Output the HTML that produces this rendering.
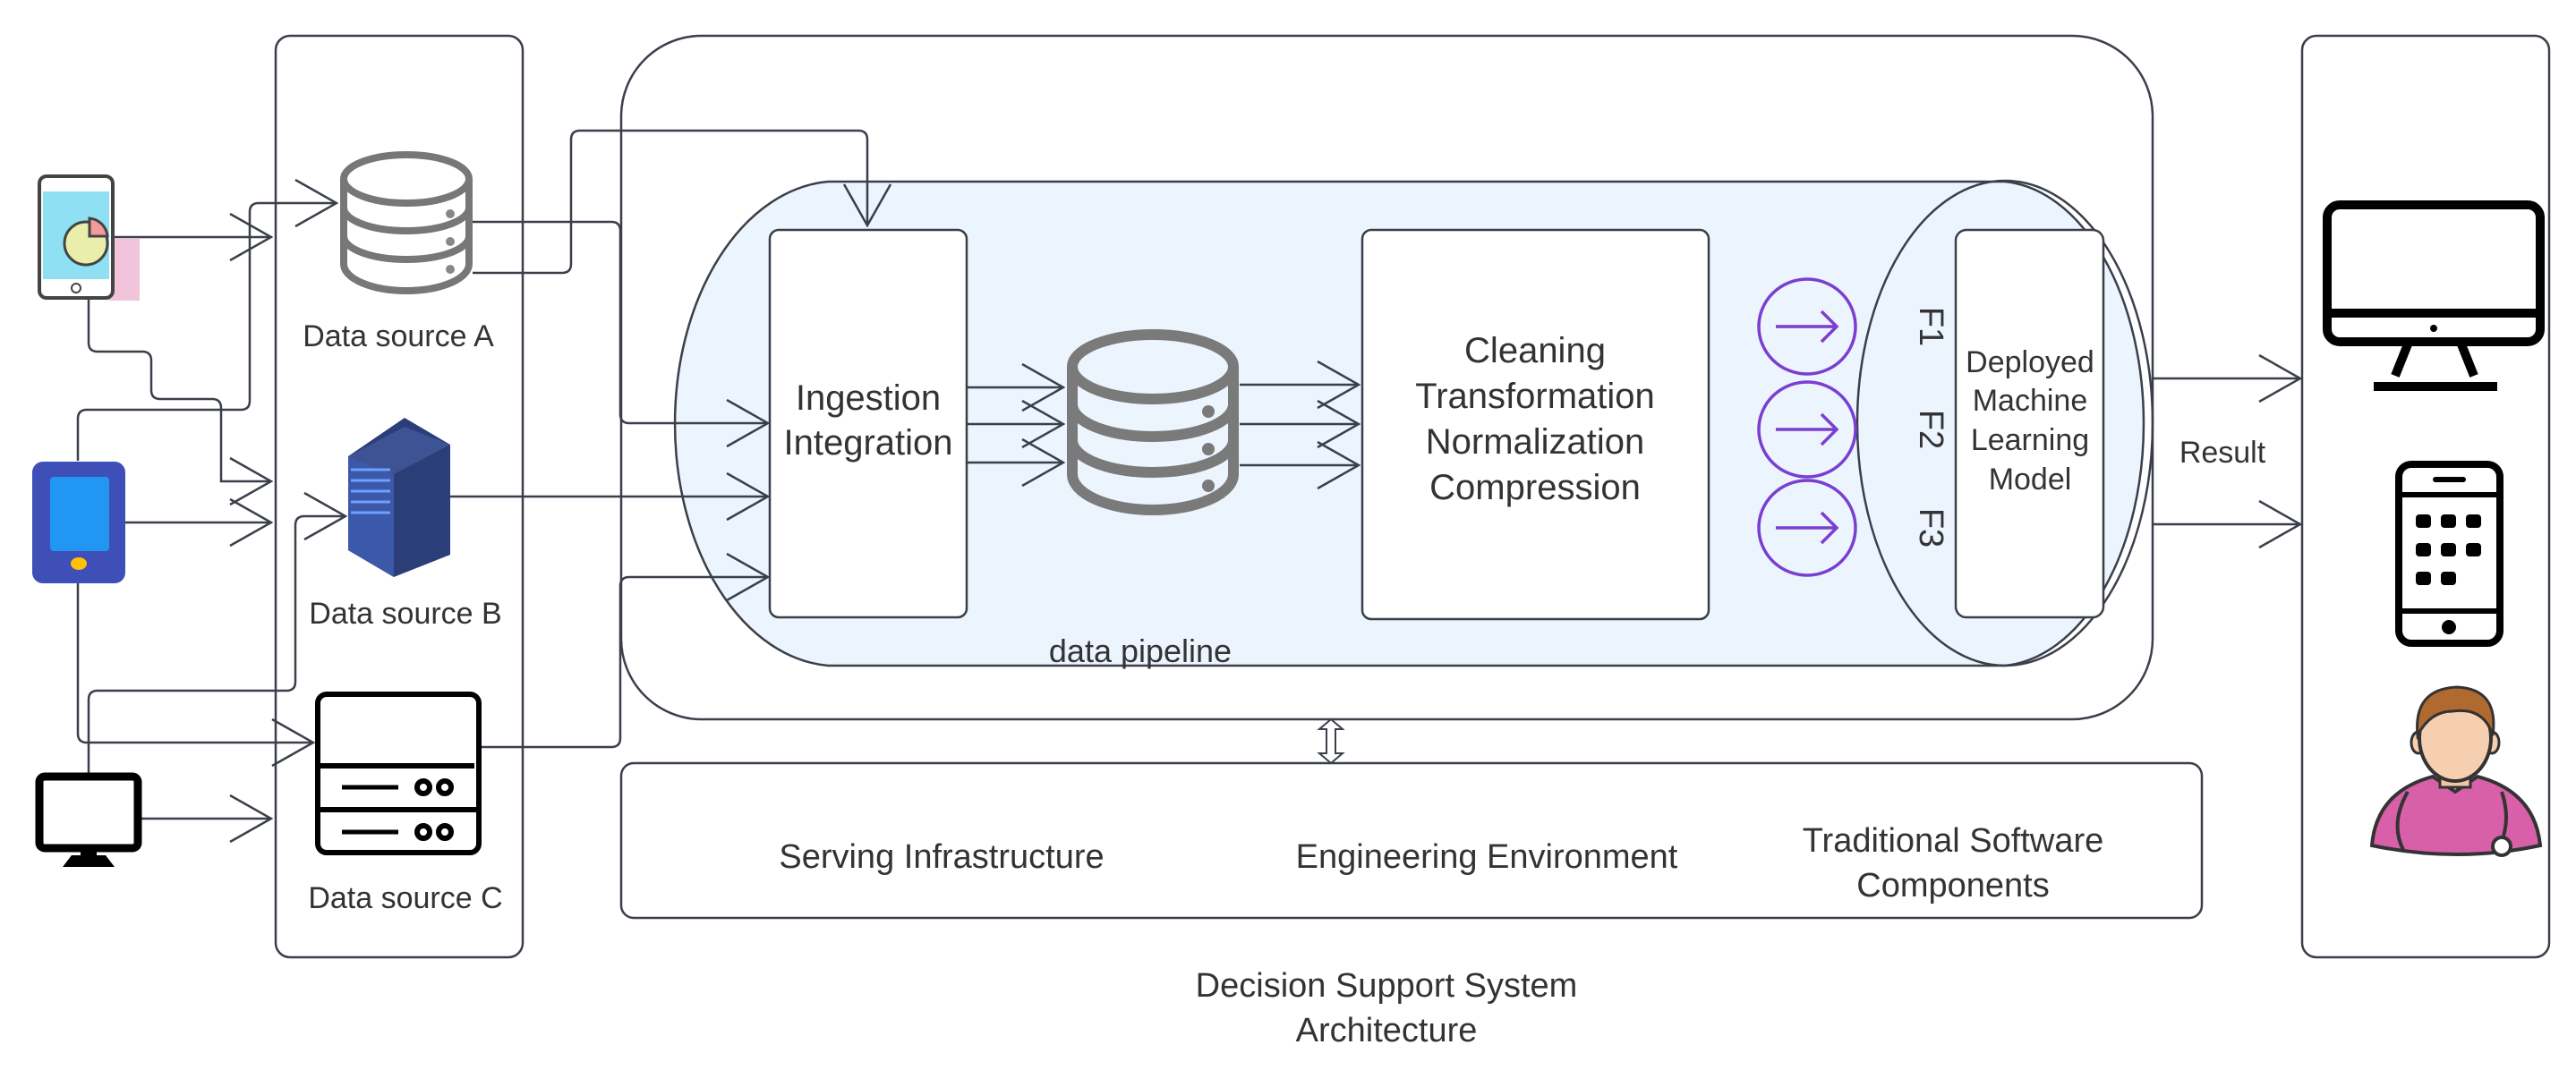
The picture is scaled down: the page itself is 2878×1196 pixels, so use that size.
<!DOCTYPE html>
<html><head><meta charset="utf-8"><style>
html,body{margin:0;padding:0;background:#fff;}
svg{display:block;}
text{font-family:"Liberation Sans",sans-serif;fill:#333;}
</style></head><body>
<svg width="2878" height="1196" viewBox="0 0 2878 1196" xmlns="http://www.w3.org/2000/svg">
<defs>
<marker id="ah" markerWidth="50" markerHeight="60" refX="48" refY="28" orient="auto" markerUnits="userSpaceOnUse">
<path d="M2,2 L48,28 L2,54" fill="none" stroke="#3a3f4a" stroke-width="2.5"/>
</marker>
</defs>
<g fill="none" stroke="#3a3f4a" stroke-width="2.5">
<rect x="308" y="40" width="276" height="1030" rx="16"/>
<rect x="694" y="40" width="1711" height="764" rx="90"/>
<rect x="694" y="853" width="1766" height="173" rx="14"/>
<rect x="2572" y="40" width="276" height="1030" rx="16"/>
<path d="M925,203 H2240 A165,271 0 0 1 2240,744 H925 A182,271 0 0 1 925,203 Z" fill="#ecf4fe"/>
<ellipse cx="2240" cy="473" rx="165" ry="271"/>
<rect x="860" y="257" width="220" height="433" rx="10" fill="#fff"/>
<rect x="1522" y="257" width="387" height="435" rx="10" fill="#fff"/>
<rect x="2185" y="257" width="165" height="433" rx="12" fill="#fff"/>
<path d="M126,265 H303" marker-end="url(#ah)"/>
<path d="M87,515 V468 Q87,458 97,458 H269 Q279,458 279,448 V237 Q279,227 289,227 H376" marker-end="url(#ah)"/>
<path d="M99,333 V383 Q99,393 109,393 H159 Q169,393 169,403 V436 Q169,446 179,446 H237 Q247,446 247,456 V538 H303" marker-end="url(#ah)"/>
<path d="M140,584 H303" marker-end="url(#ah)"/>
<path d="M87,652 V820 Q87,830 97,830 H350" marker-end="url(#ah)"/>
<path d="M99,866 V782 Q99,772 109,772 H320 Q330,772 330,762 V587 Q330,577 340,577 H386" marker-end="url(#ah)"/>
<path d="M158,915 H303" marker-end="url(#ah)"/>
<path d="M528,248 H683 Q693,248 693,258 V463 Q693,473 703,473 H858" marker-end="url(#ah)"/>
<path d="M528,305 H628 Q638,305 638,295 V156 Q638,146 648,146 H959 Q969,146 969,156 V252" marker-end="url(#ah)"/>
<path d="M503,555 H858" marker-end="url(#ah)"/>
<path d="M537,835 H683 Q693,835 693,825 V655 Q693,645 703,645 H858" marker-end="url(#ah)"/>
<path d="M1081,433 H1188" marker-end="url(#ah)"/>
<path d="M1081,474 H1188" marker-end="url(#ah)"/>
<path d="M1081,517 H1188" marker-end="url(#ah)"/>
<path d="M1385,430 H1518" marker-end="url(#ah)"/>
<path d="M1385,474 H1518" marker-end="url(#ah)"/>
<path d="M1385,520 H1518" marker-end="url(#ah)"/>
<path d="M2405,423 H2570" marker-end="url(#ah)"/>
<path d="M2405,586 H2570" marker-end="url(#ah)"/>
<path d="M1482,815 V842 L1474,842 L1487,853 L1500,842 L1492,842 V815 L1500,815 L1487,804 L1474,815 Z" fill="#fff" stroke-width="2"/>
</g>
<g fill="none" stroke="#7a3fd0" stroke-width="3.5">
<ellipse cx="2019" cy="365" rx="54" ry="53"/><path d="M1984,365 H2052 M2035,348 L2052,365 L2035,382"/>
<ellipse cx="2019" cy="480" rx="54" ry="53"/><path d="M1984,480 H2052 M2035,463 L2052,480 L2035,497"/>
<ellipse cx="2019" cy="590" rx="54" ry="53"/><path d="M1984,590 H2052 M2035,573 L2052,590 L2035,607"/>
</g>
<g fill="none" stroke="#7a7a7a" stroke-width="12">
<path d="M1198,410 V530 A90,40 0 0 0 1378,530 V410"/>
<ellipse cx="1288" cy="410" rx="90" ry="36"/>
<path d="M1198,452 A90,36 0 0 0 1378,452 M1198,492 A90,36 0 0 0 1378,492"/>
</g>
<g fill="#7a7a7a"><circle cx="1350" cy="460" r="7"/><circle cx="1350" cy="502" r="7"/><circle cx="1350" cy="543" r="7"/></g>
<g fill="none" stroke="#777" stroke-width="8">
<path d="M384,200 V295 A70,30 0 0 0 524,295 V200"/>
<ellipse cx="454" cy="200" rx="70" ry="27"/>
<path d="M384,232 A70,26 0 0 0 524,232 M384,264 A70,26 0 0 0 524,264"/>
</g>
<g fill="#888"><circle cx="503" cy="239" r="5"/><circle cx="503" cy="270" r="5"/><circle cx="503" cy="301" r="5"/></g>
<polygon points="389,510 452,467 503,497 503,620 440,645 389,615" fill="#2c3e78"/>
<polygon points="389,510 452,477 503,497 440,530" fill="#3d5394"/>
<polygon points="389,510 440,530 440,645 389,615" fill="#3b59a8"/>
<g stroke="#6fa0ff" stroke-width="3"><path d="M392,525 H436 M392,537 H436 M392,549 H436 M392,561 H436 M392,573 H436"/></g>
<g fill="none" stroke="#000" stroke-width="6">
<rect x="355" y="776" width="180" height="177" rx="10"/>
<path d="M355,856 H530 M355,905 H535"/>
<path d="M382,880 H445 M382,930 H445" stroke-width="5"/>
<circle cx="473" cy="880" r="7"/><circle cx="497" cy="880" r="7"/>
<circle cx="473" cy="930" r="7"/><circle cx="497" cy="930" r="7"/>
</g>
<rect x="121" y="267" width="35" height="69" fill="#f2c4dc"/>
<rect x="44" y="197" width="82" height="136" rx="8" fill="#fff" stroke="#444" stroke-width="4"/>
<rect x="48" y="214" width="74" height="98" fill="#8ee0f2"/>
<circle cx="96" cy="272" r="24" fill="#e9eeaa" stroke="#444" stroke-width="3"/>
<path d="M100,244 A22,22 0 0 1 120,264 H100 Z" fill="#f49a9a" stroke="#444" stroke-width="3"/>
<circle cx="85" cy="322" r="5" fill="none" stroke="#444" stroke-width="2"/>
<rect x="36" y="516" width="104" height="136" rx="12" fill="#3f4fb8"/>
<rect x="56" y="533" width="66" height="83" rx="4" fill="#2196f3"/>
<ellipse cx="88" cy="630" rx="9" ry="7" fill="#ffc107"/>
<rect x="44" y="868" width="110" height="80" rx="6" fill="#fff" stroke="#000" stroke-width="9"/>
<polygon points="80,956 118,956 128,969 70,969" fill="#000"/><rect x="90" y="948" width="18" height="10" fill="#000"/>
<g fill="none" stroke="#000" stroke-width="10">
<rect x="2600" y="229" width="238" height="153" rx="14"/>
<path d="M2600,350 H2838"/>
<path d="M2690,385 L2676,420 M2750,385 L2764,420 M2652,432 H2790"/>
<rect x="2680" y="519" width="113" height="200" rx="14" stroke-width="8"/>
<path d="M2680,553 H2793 M2680,683 H2793" stroke-width="6"/>
</g>
<circle cx="2719" cy="367" r="4"/>
<g fill="#000">
<rect x="2718" y="533" width="37" height="6" rx="3"/><circle cx="2736" cy="701" r="8"/>
<rect x="2699" y="575" width="17" height="15" rx="4"/><rect x="2727" y="575" width="17" height="15" rx="4"/><rect x="2755" y="575" width="17" height="15" rx="4"/>
<rect x="2699" y="607" width="17" height="15" rx="4"/><rect x="2727" y="607" width="17" height="15" rx="4"/><rect x="2755" y="607" width="17" height="15" rx="4"/>
<rect x="2699" y="639" width="17" height="15" rx="4"/><rect x="2727" y="639" width="17" height="15" rx="4"/>
</g>
<path d="M2650,945 Q2655,885 2718,868 L2743,885 L2768,868 Q2832,885 2838,945 Q2745,965 2650,945 Z" fill="#d760a8" stroke="#333" stroke-width="4"/>
<rect x="2726" y="842" width="34" height="38" fill="#f1c6a6" stroke="#333" stroke-width="3"/>
<ellipse cx="2702" cy="830" rx="8" ry="12" fill="#f5cfb0" stroke="#333" stroke-width="3"/>
<ellipse cx="2784" cy="830" rx="8" ry="12" fill="#f5cfb0" stroke="#333" stroke-width="3"/>
<ellipse cx="2743" cy="825" rx="40" ry="48" fill="#f5cfb0" stroke="#333" stroke-width="4"/>
<path d="M2701,822 Q2696,770 2745,768 Q2792,770 2785,822 Q2775,790 2740,795 Q2715,795 2701,822 Z" fill="#b06a30" stroke="#333" stroke-width="3"/>
<path d="M2690,885 Q2670,920 2685,950 M2795,885 Q2805,915 2795,940" fill="none" stroke="#333" stroke-width="4"/>
<circle cx="2795" cy="946" r="10" fill="#fff" stroke="#333" stroke-width="4"/>
<g font-size="34" text-anchor="middle">
<text x="445" y="387">Data source A</text>
<text x="453" y="697">Data source B</text>
<text x="453" y="1015">Data source C</text>
</g>
<g font-size="40" text-anchor="middle">
<text x="970" y="458">Ingestion</text>
<text x="970" y="508">Integration</text>
<text x="1715" y="405">Cleaning</text>
<text x="1715" y="456">Transformation</text>
<text x="1715" y="507">Normalization</text>
<text x="1715" y="558">Compression</text>
<text x="1052" y="970" font-size="38">Serving Infrastructure</text>
<text x="1661" y="970" font-size="38">Engineering Environment</text>
<text x="2182" y="952" font-size="38">Traditional Software</text>
<text x="2182" y="1002" font-size="38">Components</text>
<text x="1549" y="1114" font-size="38">Decision Support System</text>
<text x="1549" y="1164" font-size="38">Architecture</text>
<text x="1274" y="740" font-size="36">data pipeline</text>
</g>
<g font-size="34" text-anchor="middle">
<text x="2268" y="416">Deployed</text>
<text x="2268" y="459">Machine</text>
<text x="2268" y="503">Learning</text>
<text x="2268" y="547">Model</text>
<text x="2483" y="517">Result</text>
</g>
<g font-size="38" text-anchor="middle">
<text transform="translate(2145,365) rotate(90)">F1</text>
<text transform="translate(2145,480) rotate(90)">F2</text>
<text transform="translate(2145,590) rotate(90)">F3</text>
</g>
</svg>
</body></html>
